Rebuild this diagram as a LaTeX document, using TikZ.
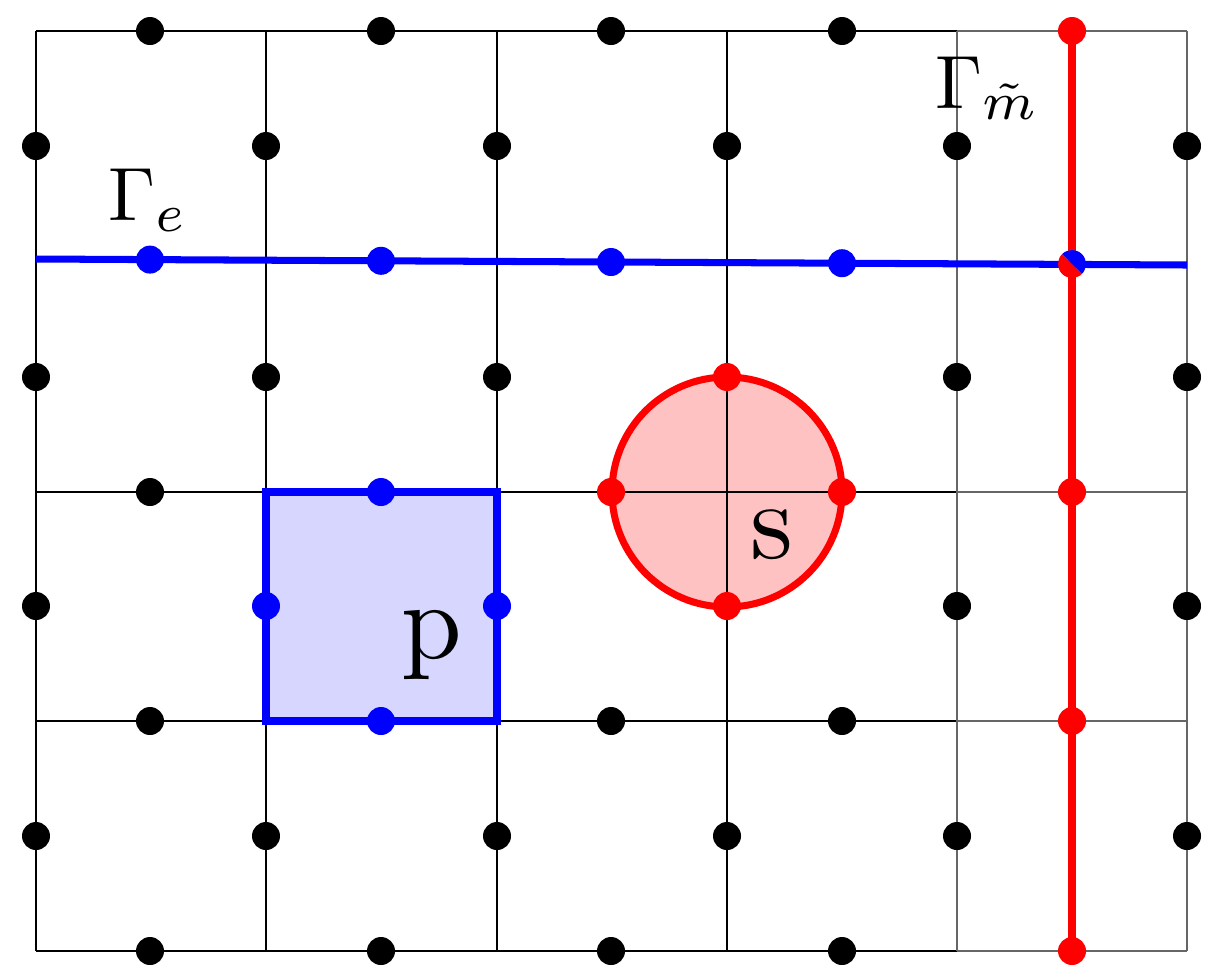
\documentclass[tikz,border=0pt]{standalone}
\usepackage{graphicx}
\colorlet{k}{black}
\begin{document}
\begin{tikzpicture}[x=0.02cm,y=-0.02cm,
  dot/.style={circle,fill=#1,inner sep=0pt,minimum size=0.56cm},
  gline/.style={line width=0.8pt,black},
  glinegrey/.style={line width=0.8pt,black!60},
  thick/.style={line width=4pt}]
\useasboundingbox (0,0) rectangle (1224,978);
% fills
\fill[blue!16] (266,492) rectangle (497,721);
\fill[red!24] (727,492) circle (115);
% grid
\foreach \y in {31,492,721,951} \draw[gline] (36,\y) -- (957,\y);
\foreach \y in {31,492,721,951} \draw[glinegrey] (957,\y) -- (1187,\y);
\foreach \x in {36,266,497,727} \draw[gline] (\x,31) -- (\x,951);
\foreach \x in {957,1187} \draw[glinegrey] (\x,31) -- (\x,951);
% outlines
\draw[thick,blue] (266,492) rectangle (497,721);
\draw[thick,red] (727,492) circle (115);
\coordinate (bl) at (36,259); \coordinate (br) at (1187,265);
\draw[thick,blue] (bl) -- (br);
\coordinate (rt) at (1072,31); \coordinate (rb) at (1072,951);
\draw[thick,red] (rt) -- (rb);
% dots on horizontal edges
\foreach \y/\ca/\cb/\cc/\cd/\ce in {31/k/k/k/k/red,492/k/blue/red/red/red,721/k/blue/k/k/red,951/k/k/k/k/red}{
  \node[dot=\ca] (h1-\y) at (150,\y) {};
  \node[dot=\cb] (h2-\y) at (381,\y) {};
  \node[dot=\cc] (h3-\y) at (611,\y) {};
  \node[dot=\cd] (h4-\y) at (842,\y) {};
  \node[dot=\ce] (h5-\y) at (1072,\y) {};}
\foreach \x in {150,381,611,842} \node[dot=blue] (b\x) at (\x,{259+6*(\x-36)/1151}) {};
% split dot
\begin{scope}[shift={(1072,264)}]
\fill[red] (45:14) arc (45:225:14) -- cycle;
\fill[blue] (225:14) arc (225:405:14) -- cycle;
\end{scope}
% dots on vertical edges
\foreach \x in {36,266,497,727,957,1187}{
  \node[dot=black] (v\x-146) at (\x,146) {};
  \node[dot=black] (v\x-836) at (\x,836) {};}
\foreach \x in {36,266,497,957,1187} \node[dot=black] (v\x-377) at (\x,377) {};
\node[dot=red] (v727-377) at (727,377) {};
\foreach \x in {36,957,1187} \node[dot=black] (v\x-606) at (\x,606) {};
\node[dot=blue] (v266-606) at (266,606) {};
\node[dot=blue] (v497-606) at (497,606) {};
\node[dot=red] (v727-606) at (727,606) {};
% labels
\node (ge) at (148,200) {\scalebox{4.3}{$\Gamma_e$}};
\node (gm) at (988,88) {\scalebox{4.3}{$\Gamma_{\tilde m}$}};
\node (p) at (432,645) {\scalebox{6.2}{p}};
\node (s) at (772,535) {\scalebox{6.2}{s}};
\end{tikzpicture}
\end{document}
